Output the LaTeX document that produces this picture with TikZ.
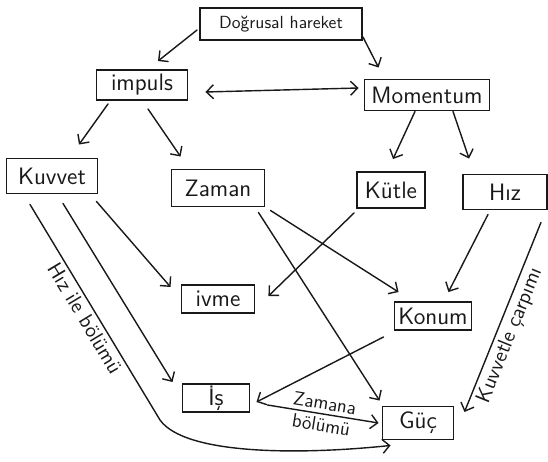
\documentclass[tikz,border=0pt]{standalone}
\usetikzlibrary{arrows.meta,calc}
\definecolor{InkClr}{rgb}{0.1,0.1,0.1}

\begin{document}
\begin{tikzpicture}[x=0.02cm,y=-0.02cm,
  box/.style={draw=InkClr,line width=1.1pt,inner sep=1pt,font=\sffamily\fontsize{13.5}{16}\selectfont,text=InkClr},
  link/.style={draw=InkClr,line width=0.8pt,line cap=round,-{Straight Barb[length=4pt,width=8pt]}},
  tag/.style={font=\sffamily\large,text=InkClr,inner sep=2pt}]
\useasboundingbox (0,0) rectangle (548,462);

\node[box,font=\sffamily,minimum width=3.24cm,minimum height=0.64cm] (dogrusal) at (281,24) {Doğrusal hareket};
\node[box,minimum width=1.82cm,minimum height=0.60cm] (impuls) at (142,85) {impuls};
\node[box,minimum width=2.50cm,minimum height=0.62cm] (momentum) at (427,95) {Momentum};

\node[box,minimum width=1.82cm,minimum height=0.70cm] (kuvvet) at (52,176) {Kuvvet};
\node[box,minimum width=1.86cm,minimum height=0.74cm] (zaman) at (218,188) {Zaman};
\node[box,minimum width=1.36cm,minimum height=0.72cm] (kutle) at (391,190) {Kütle};
\node[box,minimum width=1.68cm,minimum height=0.70cm] (hiz) at (505,192) {Hız};

\node[box,minimum width=1.46cm,minimum height=0.56cm] (ivme) at (218,299) {ivme};
\node[box,minimum width=1.54cm,minimum height=0.56cm] (konum) at (433,316) {Konum};
\node[box,minimum width=1.34cm,minimum height=0.54cm] (is) at (216,398) {İş};
\node[box,minimum width=1.42cm,minimum height=0.66cm] (guc) at (418,423) {Güç};

\coordinate (bend) at (160,420);

\draw[link] ($(dogrusal.west)+(-2,6)$) -- ($(impuls.north)+(16,-8)$);
\draw[link] ($(dogrusal.south east)+(0,-4)$) -- ($(momentum.north west)+(15,-11)$);
\draw[link,{Straight Barb[length=4pt,width=8pt]}-{Straight Barb[length=4pt,width=8pt]}] ($(impuls.east)+(17,7)$) -- ($(momentum.west)+(-5,-7)$);

\draw[link] ($(impuls.south)+(-34,3)$) -- ($(kuvvet.north)+(27,-13)$);
\draw[link] ($(impuls.south)+(6,8)$) -- ($(zaman.north west)+(10,-12)$);
\draw[link] ($(momentum.south)+(-12,0)$) -- ($(kutle.north)+(2,-12)$);
\draw[link] ($(momentum.south)+(26,0)$) -- ($(hiz.north west)+(7,-15)$);

\draw[link] ($(kuvvet.south east)+(-2,7)$) -- ($(ivme.west)+(-10,-12)$);
\draw[link] ($(kuvvet.south)+(11,9)$) -- ($(is.west)+(-9,-16)$);
\draw[link] ($(kuvvet.south)+(-22,10)$) -- node[tag,sloped,below] (hizile) {Hız ile bölümü} (bend)
  .. controls (185,455) and (300,455) .. ($(guc.south west)+(9,5)$);

\draw[link] ($(zaman.south east)+(5,3)$) -- ($(konum.north west)+(5,-9)$);
\draw[link] ($(zaman.south east)+(-7,5)$) -- ($(guc.north west)+(-2,-5)$);
\draw[link] ($(kutle.south west)+(-2,4)$) -- ($(ivme.east)+(13,-3)$);
\draw[link] ($(hiz.south)+(-17,4)$) -- ($(konum.north east)+(-24,-9)$);
\draw[link] ($(hiz.south east)+(-7,12)$) -- node[tag,sloped,below,pos=0.57] (kuvvetle) {Kuvvetle çarpımı} ($(guc.east)+(10,-11)$);

\draw[link] ($(konum.south west)+(-10,6)$) -- ($(is.east)+(6,4)$);
\draw[link] ($(is.east)+(17,7)$) -- node[tag,font=\sffamily\fontsize{11}{13}\selectfont,sloped,above] (zamana) {Zamana}
  node[tag,font=\sffamily\fontsize{11}{13}\selectfont,sloped,below] (bolumu) {bölümü} ($(guc.west)+(-3,0)$);

\end{tikzpicture}
\end{document}
